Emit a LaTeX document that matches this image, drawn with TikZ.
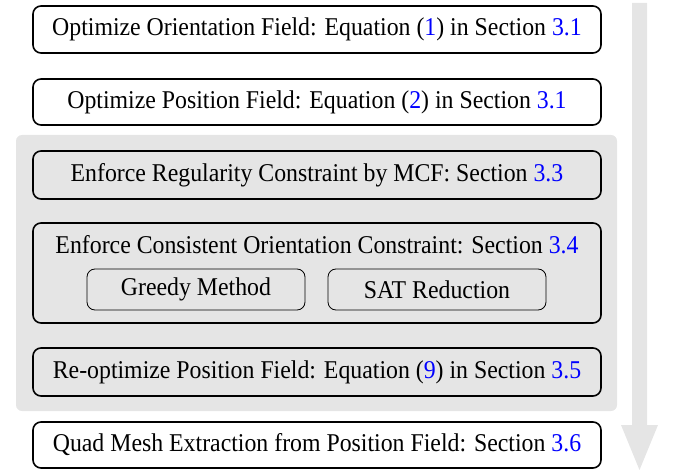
\documentclass[tikz,border=0pt]{standalone}
\usepackage{fontspec}
\setmainfont{LiberationSerif}[Extension=.ttf,UprightFont=*-Regular,BoldFont=*-Bold,ItalicFont=*-Italic,FakeStretch=0.93]
\usetikzlibrary{positioning}
\definecolor{refblue}{RGB}{0,0,255}
\definecolor{panelgray}{RGB}{229,229,229}
\newcommand{\bl}[1]{\textcolor{refblue}{#1}}
\begin{document}
\begin{tikzpicture}[x=1pt,y=-1pt,
  txt/.style={font=\rmfamily\fontsize{25.6}{30}\selectfont},
  mainbox/.style={txt,draw=black,line width=1.6pt,rounded corners=8pt,minimum width=568pt,inner sep=0pt},
  subbox/.style={txt,draw=black,line width=0.8pt,rounded corners=8pt,minimum width=218pt,minimum height=41pt,inner sep=0pt}]
\useasboundingbox (0,0) rectangle (674,470);
% progress arrow
\fill[panelgray] (632,3) -- (647,3) -- (647,425) -- (658,425) -- (639.5,470) -- (621,425) -- (632,425) -- cycle;
% grey panel
\fill[panelgray,rounded corners=6pt] (16,135) rectangle (617,411);
\node[mainbox,fill=white,minimum height=47pt] (b1) at (317,29.5) {Optimize Orientation Field: Equation (\bl{1}) in Section \bl{3.1}};
\node[mainbox,fill=white,minimum height=46pt] (b2) at (317,102) {Optimize Position Field: Equation (\bl{2}) in Section \bl{3.1}};
\node[mainbox,minimum height=48pt] (b3) at (317,175) {Enforce Regularity Constraint by MCF: Section \bl{3.3}};
\node[mainbox,minimum height=100pt] (b4) at (317,273) {};
\node[txt,inner sep=0pt] (b4t) at (317,245) {Enforce Consistent Orientation Constraint: Section \bl{3.4}};
\node[subbox] (greedy) at (196,289.5) {Greedy Method};
\node[subbox] (sat) at (437,289.5) {SAT Reduction};
\node[mainbox,minimum height=48pt] (b5) at (317,372) {Re-optimize Position Field: Equation (\bl{9}) in Section \bl{3.5}};
\node[mainbox,fill=white,minimum height=46pt] (b6) at (317,445) {Quad Mesh Extraction from Position Field: Section \bl{3.6}};
\end{tikzpicture}
\end{document}
